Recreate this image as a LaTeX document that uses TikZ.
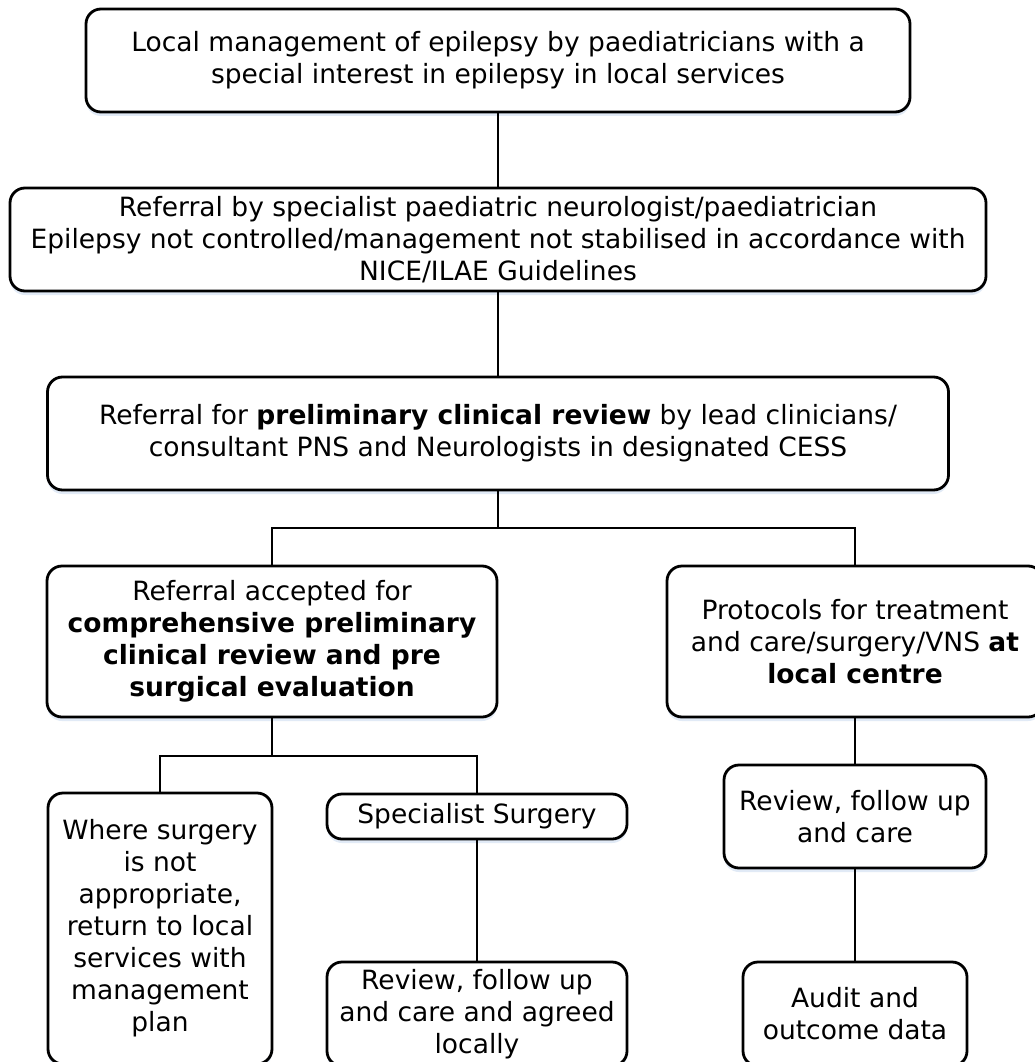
\documentclass[tikz,border=0pt]{standalone}
\usepackage{fontspec}
\setmainfont{DejaVu Sans}
\usetikzlibrary{shadows}
\definecolor{shadowblue}{RGB}{205,220,240}
\tikzset{
  box/.style={draw=black, line width=2.8pt, rounded corners=15pt, fill=white,
    align=center, inner sep=0pt, font=\fontsize{26.5}{32}\selectfont,
    drop shadow={shadow xshift=0pt, shadow yshift=-4pt, fill=shadowblue, opacity=0.6}},
  conn/.style={draw=black, line width=1.8pt}
}
\begin{document}
\begin{tikzpicture}[x=1pt,y=-1pt]
\useasboundingbox (0,0) rectangle (1034,1062);
\fill[white] (0,0) rectangle (1034,1062);

\node[box, minimum width=824pt, minimum height=103pt] (top) at (498,60.5)
  {Local management of epilepsy by paediatricians with a\\special interest in epilepsy in local services};
\node[box, minimum width=976pt, minimum height=103pt] (ref) at (498,239.5)
  {Referral by specialist paediatric neurologist/paediatrician\\Epilepsy not controlled/management not stabilised in accordance with\\NICE/ILAE Guidelines};
\node[box, minimum width=901pt, minimum height=113pt] (prelim) at (498,433.5)
  {Referral for \textbf{preliminary clinical review} by lead clinicians/\\consultant PNS and Neurologists in designated CESS};
\node[box, minimum width=450pt, minimum height=151pt] (accepted) at (272,641.5)
  {Referral accepted for\\\textbf{comprehensive preliminary}\\\textbf{clinical review and pre}\\\textbf{surgical evaluation}};
\node[box, minimum width=376pt, minimum height=151pt] (protocols) at (855,641.5)
  {Protocols for treatment\\and care/surgery/VNS \textbf{at}\\\textbf{local centre}};
\node[box, minimum width=224pt, minimum height=271pt] (notappr) at (160,928.5)
  {Where surgery\\is not\\appropriate,\\return to local\\services with\\management\\plan};
\node[box, minimum width=300pt, minimum height=45pt] (surgery) at (477,816.5)
  {Specialist Surgery};
\node[box, minimum width=300pt, minimum height=104pt] (reviewA) at (477,1014)
  {Review, follow up\\and care and agreed\\locally};
\node[box, minimum width=262pt, minimum height=103pt] (reviewB) at (855,816.5)
  {Review, follow up\\and care};
\node[box, minimum width=224pt, minimum height=104pt] (audit) at (855,1014)
  {Audit and\\outcome data};

\coordinate (j1) at (498,528);
\coordinate (j2) at (272,756);

\draw[conn] (top.south) -- (ref.north);
\draw[conn] (ref.south) -- (prelim.north);
\draw[conn] (prelim.south) -- (j1);
\draw[conn] (accepted.north) |- (j1) -| (protocols.north);
\draw[conn] (accepted.south) -- (j2);
\draw[conn] (notappr.north) |- (j2) -| (surgery.north);
\draw[conn] (surgery.south) -- (reviewA.north);
\draw[conn] (protocols.south) -- (reviewB.north);
\draw[conn] (reviewB.south) -- (audit.north);
\end{tikzpicture}
\end{document}
